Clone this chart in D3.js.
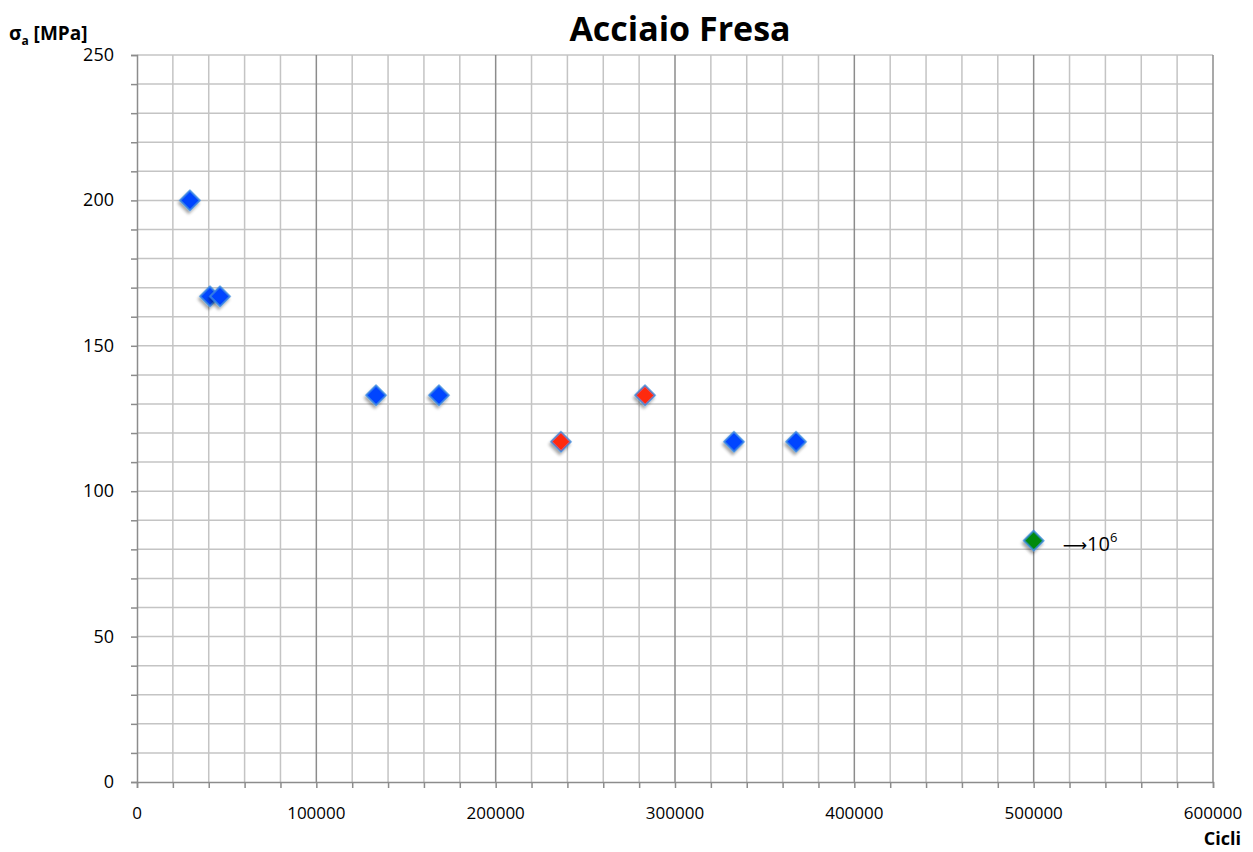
<!DOCTYPE html>
<html>
<head>
<meta charset="utf-8">
<script src="https://cdn.jsdelivr.net/npm/d3@7"></script>
<style>
  body { margin:0; background:#fff; }
  text { font-family: "Open Sans", "Liberation Sans", sans-serif; }
</style>
</head>
<body>
<div class="canvas"></div>
<script>
// data
const cycles = [29500, 40700, 46300, 133300, 168400, 236400, 283300, 332900, 367500, 500000];
const stress = [200, 167, 167, 133, 133, 117, 133, 117, 117, 83];
const kinds  = ['broken', 'broken', 'broken', 'broken', 'broken', 'red', 'red', 'broken', 'broken', 'runout'];
const xTicks = [0, 100000, 200000, 300000, 400000, 500000, 600000];
const yTicks = [0, 50, 100, 150, 200, 250];

const dims = { width: 1253, height: 852 };
const margin = { left: 137, right: 40, top: 55, bottom: 70 };

const svg = d3.select('.canvas')
  .append('svg')
  .attr('width', dims.width)
  .attr('height', dims.height);

const x = d3.scaleLinear().domain([0, 600000]).range([margin.left, dims.width - margin.right]);
const y = d3.scaleLinear().domain([0, 250]).range([dims.height - margin.bottom, margin.top]);

const fill = { broken: '#0045ff', red: '#ff2a0a', runout: '#058a10' };

// shadow for the markers
const defs = svg.append('defs');
const f = defs.append('filter').attr('id', 'shadow').attr('x', '-50%').attr('y', '-50%').attr('width', '200%').attr('height', '200%');
f.append('feDropShadow').attr('dx', 1).attr('dy', 3).attr('stdDeviation', 1.5).attr('flood-color', '#000').attr('flood-opacity', 0.35);

// ------------------------ grid
const grid = svg.append('g');
grid.selectAll('line.h')
  .data(d3.range(10, 251, 10))
  .enter().append('line')
  .attr('x1', x(0)).attr('x2', x(600000))
  .attr('y1', d => y(d)).attr('y2', d => y(d))
  .attr('stroke', '#c4c4c4').attr('stroke-width', 1.5);

grid.selectAll('line.v')
  .data(d3.range(20000, 600001, 20000))
  .enter().append('line')
  .attr('x1', d => x(d)).attr('x2', d => x(d))
  .attr('y1', y(0)).attr('y2', y(250))
  .attr('stroke', d => d % 100000 === 0 ? '#8c8c8c' : '#c4c4c4')
  .attr('stroke-width', 1.5);

// ------------------------ axes
const xAxis = svg.append('g')
  .attr('transform', `translate(0, ${y(0)})`)
  .call(d3.axisBottom(x).tickValues(d3.range(0, 600001, 20000)).tickSize(6).tickFormat(''));
const yAxis = svg.append('g')
  .attr('transform', `translate(${x(0)}, 0)`)
  .call(d3.axisLeft(y).tickValues(d3.range(0, 251, 10)).tickSize(6).tickFormat(''));
[xAxis, yAxis].forEach(a => {
  a.selectAll('path, line').attr('stroke', '#8c8c8c').attr('stroke-width', 1.5);
});

svg.append('g').selectAll('text')
  .data(xTicks).enter().append('text')
  .attr('x', d => x(d)).attr('y', y(0) + 37)
  .attr('text-anchor', 'middle')
  .style('font-size', '17px')
  .text(d => d);

svg.append('g').selectAll('text')
  .data(yTicks).enter().append('text')
  .attr('x', x(0) - 23).attr('y', d => y(d) + 6)
  .attr('text-anchor', 'end')
  .style('font-size', '18px')
  .text(d => d);

// ------------------------ title & labels
svg.append('text')
  .attr('x', 680).attr('y', 41)
  .attr('text-anchor', 'middle')
  .style('font-size', '34px').style('font-weight', 'bold')
  .text('Acciaio Fresa');

const yl = svg.append('text')
  .attr('x', 9).attr('y', 40)
  .style('font-size', '19px').style('font-weight', 'bold');
yl.append('tspan').text('σ');
yl.append('tspan').attr('dy', 5).style('font-size', '12px').text('a');
yl.append('tspan').attr('dy', -5).text(' [MPa]');

svg.append('text')
  .attr('x', 1241).attr('y', 845)
  .attr('text-anchor', 'end')
  .style('font-size', '18px').style('font-weight', 'bold')
  .text('Cicli');

// ------------------------ points
const pts = cycles.map((c, i) => ({ c, s: stress[i], k: kinds[i] }));
svg.append('g').selectAll('path')
  .data(pts).enter().append('path')
  .attr('d', d3.symbol().type(d3.symbolSquare).size(200))
  .attr('transform', d => `translate(${x(d.c)}, ${y(d.s)}) rotate(45)`)
  .attr('fill', d => fill[d.k])
  .attr('stroke', '#3d8ce0')
  .attr('stroke-width', 1.5)
  .attr('filter', 'url(#shadow)');

// run-out note
const last = pts[pts.length - 1];
const note = svg.append('text')
  .attr('x', x(last.c) + 29).attr('y', y(last.s) + 10)
  .style('font-size', '20px');
note.append('tspan').style('font-family', '"DejaVu Sans"').style('font-size', '17px').text('⟶');
note.append('tspan').text('10');
note.append('tspan').attr('dy', -9).style('font-size', '13px').text('6');
</script>
</body>
</html>
